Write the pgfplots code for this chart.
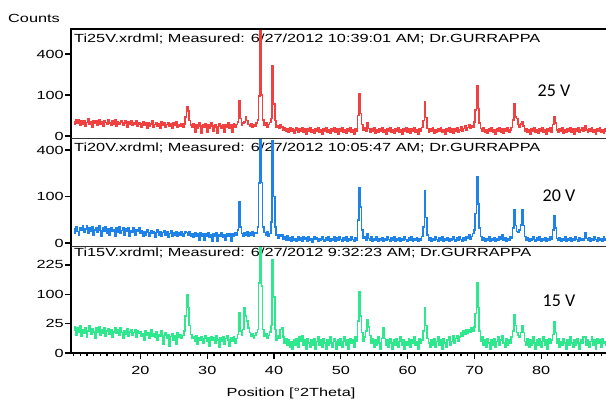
\documentclass[border=0pt]{standalone}
\usepackage{pgfplots}
\pgfplotsset{compat=1.18}
\usepackage{pgfplotstable}
\usepackage{fontspec}
\setmainfont{Liberation Sans}
\newfontfamily\wfont[FakeStretch=1.38]{Liberation Sans}
\newfontfamily\cfont{Carlito}
\newcommand\tf{\wfont\fontsize{11.8}{13}\selectfont}
\newcommand\vf{\cfont\fontsize{18}{20}\selectfont}
\definecolor{cr}{RGB}{240,64,64}
\definecolor{cb}{RGB}{30,130,230}
\definecolor{cg}{RGB}{45,232,140}

\pgfplotstableread{
x r b g
10.0 12 9 15
10.2 8 4 20
10.4 15 12 9
10.6 10 6 18
10.8 16 3 12
11.0 7 11 22
11.2 13 7 8
11.4 9 14 16
11.6 14 5 11
11.8 6 9 19
12.0 11 13 7
12.2 17 4 14
12.4 8 10 21
12.6 12 6 10
12.8 5 12 17
13.0 14 3 13
13.2 10 8 6
13.4 13 11 18
13.6 7 5 12
13.8 15 13 20
14.0 9 7 9
14.2 12 2 15
14.4 6 10 11
14.6 14 6 19
14.8 11 12 8
15.0 8 4 14
15.2 16 9 17
15.4 10 3 10
15.6 7 11 16
15.8 13 6 7
16.0 9 8 13
16.2 15 2 19
16.4 6 10 11
16.6 12 5 15
16.8 8 12 9
17.0 11 4 18
17.2 14 7 12
17.4 7 10 6
17.6 10 3 14
17.8 13 9 10
18.0 5 6 17
18.2 12 11 8
18.4 9 2 13
18.6 14 7 16
18.8 7 5 9
19.0 11 10 12
19.2 8 3 15
19.4 13 8 7
19.6 6 6 14
19.8 10 11 11
20.0 9 4 13
20.2 5 7 8
20.4 12 2 11
20.6 7 6 5
20.8 10 3 14
21.0 4 8 9
21.2 11 5 12
21.4 6 2 6
21.6 9 7 15
21.8 13 4 8
22.0 5 6 11
22.2 8 1.5 7
22.4 11 5 13
22.6 6 8 5
22.8 9 3 10
23.0 4 6 8
23.2 12 2 14
23.4 7 5 2
23.6 10 7 9
23.8 5 3 12
24.0 8 6 6
24.2 11 1.5 10
24.4 6 4 1.5
24.6 9 7 8
24.8 4 2 11
25.0 10 5 5
25.2 7 3 9
25.4 12 6 2
25.6 5 2 12
25.8 8 5 7
26.0 6 3 10
26.2 9 6 6
26.4 5 2 9
26.6 9 4 14
26.8 22 6 40
27.0 51 5 98
27.2 38 3 60
27.4 14 6 22
27.6 7 2 10
27.8 5 4 6
28.0 9 1.5 8
28.2 1 5 4
28.4 7 2 9
28.6 4 4 2
28.8 10 0.3 7
29.0 6 5 5
29.2 0.6 2 8
29.4 8 3.5 3
29.6 5 0.3 6
29.8 9 4 9
30.0 1 2 4
30.2 7 5 7
30.4 4 1.5 1.5
30.6 10 3 8
30.8 6 0.2 5
31.0 1.2 4 7
31.2 8 2 3
31.4 5 5 9
31.6 0.5 0.2 5
31.8 9 3 1
32.0 6 2 7
32.2 4 4.5 4
32.4 8 1.5 8
32.6 0.9 3 2
32.8 7 0.3 6
33.0 5 4 9
33.2 10 2 5
33.4 4 3.5 1.5
33.6 7 0.2 7
33.8 1 4 4
34.0 9 2 8
34.2 5 5 3
34.4 8 3 6
34.6 12 8 10
34.8 73 78 47
35.0 18 12 14
35.2 7 4 9
35.4 10 2 16
35.6 12 5 59
35.8 22 3 40
36.0 14 6 30
36.2 8 2 18
36.4 6 5 12
36.6 9 3 8
36.8 5 6 11
37.0 8 2 6
37.2 6 5 9
37.4 10 4 12
37.6 15 12 16
37.8 95 166 142
38.0 1200 1200 1200
38.2 100 170 130
38.4 15 12 16
38.6 7 5 8
38.8 10 3 11
39.0 5 6 6
39.2 8 2 9
39.4 11 4 13
39.6 18 20 22
39.8 294 480 250
40.0 60 100 90
40.2 14 12 16
40.4 4.2 3 5
40.6 6 1 8.5
40.8 3.2 3 6
41.0 8 2 16
41.2 5 3 18
41.4 2.2 0.6 7.5
41.6 4.2 2 2.8
41.8 1.4 0.3 6
42.0 3.2 2.4 1.8
42.2 0.7 0.3 5
42.4 4.2 1.4 1
42.6 1.4 0.1 3.8
42.8 3.2 2 0.4
43.0 0.4 0.3 5
43.2 2.2 1 1.8
43.4 4.2 0.1 6
43.6 0.7 2 1
43.8 3.2 0.3 7.5
44.0 1.4 1.4 3.8
44.2 4.2 0.2 8.5
44.4 0.7 2 1.8
44.6 2.8 0.6 5
44.8 0.2 1.4 0.4
45.0 3.2 0.1 6
45.2 1.4 2 2.8
45.4 4.2 0.3 1
45.6 0.7 1 5
45.8 2.2 0.05 1.8
46.0 0.4 2 6
46.2 3.2 0.6 0.4
46.4 1.4 1.4 3.8
46.6 4.2 0.1 7.5
46.8 0.7 1 1.8
47.0 2.2 0.3 5
47.2 0.2 2 1
47.4 3.2 0.6 6
47.6 1.4 0.1 2.8
47.8 4.2 1.4 0.4
48.0 0.7 0.3 5
48.2 2.2 2 1.8
48.4 0.4 0.2 7.5
48.6 3.2 1 2.8
48.8 1.4 0.3 1
49.0 4.2 2 6
49.2 0.7 0.1 3.8
49.4 2.8 1.4 0.4
49.6 0.2 0.3 5
49.8 3.2 2 1.8
50.0 1.4 0.6 6
50.2 4.2 0.1 1
50.4 0.7 1.4 3.8
50.6 2.2 0.3 7.5
50.8 0.4 2 1.8
51.0 3.2 0.2 5
51.2 1.4 1 0.4
51.4 4.2 0.3 6
51.6 0.7 2 2.8
51.8 2.2 0.6 5
52.0 0.2 0.1 1
52.2 3.2 1.4 7.5
52.4 1.4 0.3 3.8
52.6 25 25 30
52.8 105 139 109
53.0 30 60 40
53.2 8 8 12
53.4 2.2 1 3.8
53.6 4.2 2 7.5
53.8 1.4 0.3 14
54.0 10 4 32
54.2 3.2 1 20
54.4 0.7 0.3 9
54.6 3.2 2 2.8
54.8 1.4 0.1 6
55.0 4.2 1 1
55.2 0.4 0.3 5
55.4 2.2 2 1.8
55.6 0.7 0.2 7.5
55.8 3.2 1 2.8
56.0 1.4 0.3 0.4
56.2 4.2 1.4 6
56.4 0.7 0.1 19
56.6 2.2 1 6
56.8 0.2 0.3 1.8
57.0 3.2 2 5
57.2 1.4 0.6 1
57.4 4.2 0.1 6
57.6 0.7 1.4 2.8
57.8 2.2 0.3 0.4
58.0 0.4 2 5
58.2 3.2 0.2 1.8
58.4 1.4 1 6
58.6 4.2 0.3 1
58.8 0.7 1.4 3.8
59.0 2.2 0.1 7.5
59.2 0.2 1 1.8
59.4 3.2 0.3 5
59.6 1.4 2 0.4
59.8 4.2 0.6 3.8
60.0 0.7 0.1 1.8
60.2 2.8 1.4 6
60.4 0.4 0.3 1
60.6 3.2 2 5
60.8 1.4 0.2 2.8
61.0 4.2 1 7.5
61.2 0.7 0.3 1.8
61.4 2.2 1.4 3.8
61.6 0.2 0.1 0.4
61.8 3.2 1 6
62.0 1.4 0.3 2.8
62.2 4.2 2 5
62.4 14 12 14
62.6 70 125 58
62.8 20 30 22
63.0 3.2 3 6
63.2 0.7 0.3 2.8
63.4 3.2 1.4 1
63.6 1.4 0.1 5
63.8 4.2 1 1.8
64.0 0.4 0.3 6
64.2 2.2 2 1
64.4 0.7 0.6 3.8
64.6 3.2 0.1 7.5
64.8 1.4 1.4 1.8
65.0 4.2 0.3 5
65.2 0.7 2 0.4
65.4 2.2 0.2 6
65.6 0.2 1 2.8
65.8 3.2 0.3 1
66.0 1.4 1.4 5
66.2 4.2 0.1 7.5
66.4 0.7 1 1.8
66.6 2.8 0.3 3.8
66.8 0.4 2 8.5
67.0 3.2 0.6 2.8
67.2 1.4 0.1 6
67.4 4.2 1.4 9
67.6 0.7 0.3 4
67.8 2.2 2 7.5
68.0 5 0.6 12
68.2 1.4 0.2 8
68.4 3.2 1.4 14
68.6 6 0.3 10
68.8 2.2 2 15
69.0 4.2 1 11
69.2 7 3 16
69.4 3.2 0.6 12
69.6 6 2 18
69.8 4.2 4 14
70.0 12 8 20
70.2 40 40 45
70.4 149 200 141
70.6 45 70 60
70.8 10 10 14
71.0 3.2 2 3.8
71.2 1.4 0.3 7.5
71.4 4.2 1.4 1.8
71.6 0.7 0.1 5
71.8 2.2 1 1
72.0 0.4 0.3 6
72.2 3.2 2 2.8
72.4 1.4 0.2 0.4
72.6 4.2 1 5
72.8 0.7 0.3 1.8
73.0 2.2 1.4 6
73.2 0.2 0.1 1
73.4 3.2 1 3.8
73.6 1.4 0.3 7.5
73.8 4.2 2 1.8
74.0 0.7 0.6 5
74.2 2.8 3 8.5
74.4 0.4 0.3 2.8
74.6 3.2 1.4 1
74.8 1.4 0.1 6
75.0 4.2 1 1.8
75.2 0.7 0.3 5
75.4 2.2 2 2.8
75.6 4.2 1 7.5
75.8 15 10 14
76.0 60 50 42
76.2 22 14 22
76.4 18 6 12
76.6 8 5 9
76.8 5 8 7
77.0 9 15 12
77.2 12 50 21
77.4 6 14 12
77.6 1.4 2 3.8
77.8 3.2 0.3 1.8
78.0 0.7 1.4 6
78.2 2.2 0.1 1
78.4 0.2 1 5
78.6 3.2 0.3 1.8
78.8 1.4 2 7.5
79.0 4.2 0.6 2.8
79.2 0.7 0.1 0.4
79.4 2.2 1.4 5
79.6 0.4 0.3 1.8
79.8 3.2 2 6
80.0 1.4 0.2 1
80.2 4.2 1 3.8
80.4 0.7 0.3 7.5
80.6 2.2 1.4 1.8
80.8 0.2 0.1 5
81.0 3.2 1 0.4
81.2 1.4 0.3 6
81.4 4.2 2 2.8
81.6 0.7 0.6 5
81.8 8 8 10
82.0 22 34 28
82.2 10 10 12
82.4 2.2 1 2.8
82.6 0.7 0.3 6
82.8 3.2 1.4 1
83.0 1.4 0.1 3.8
83.2 4.2 1 1.8
83.4 0.4 0.3 6
83.6 2.2 2 2.8
83.8 0.7 0.2 0.4
84.0 3.2 1 5
84.2 1.4 0.3 1.8
84.4 4.2 1.4 7.5
84.6 0.7 0.1 2.8
84.8 2.8 1 1
85.0 0.2 0.3 5
85.2 3.2 2 1.8
85.4 1.4 0.6 6
85.6 4.2 0.1 2.8
85.8 0.7 1.4 0.4
86.0 2.2 0.3 5
86.2 4.2 1 2.8
86.4 1.4 0.3 7.5
86.6 6 5 8
86.8 2.2 1 1.8
87.0 0.7 0.3 5
87.2 3.2 1.4 1
87.4 1.4 0.1 3.8
87.6 4.2 1 7.5
87.8 0.7 0.3 1.8
88.0 2.2 2 5
88.2 0.2 0.6 0.4
88.4 3.2 0.1 6
88.6 1.4 1.4 2.8
88.8 4.2 0.3 5
89.0 0.7 1 1
89.2 2.2 0.2 6
89.4 0.4 2 2.8
89.6 3.2 0.3 3.8
89.8 1.4 1 1.8
}\xrd

\pgfplotsset{xrd/.style={
  scale only axis, width=535pt, xmin=9.6, xmax=89.7, ymin=0,
  anchor=south west,
  y coord trafo/.code={\pgfmathparse{sqrt(##1)}},
  y coord inv trafo/.code={\pgfmathparse{(##1)^2}},
  axis line style={draw=none},
  tick align=outside, tick pos=left,
  major tick length=6pt, minor tick length=3pt,
  tick style={black, line width=1.2pt},
  yticklabel style={font=\tf, inner sep=1pt},
  xticklabel style={font=\tf},
  enlargelimits=false,
}}

\begin{document}
\begin{tikzpicture}[x=1pt,y=1pt]
\useasboundingbox (0,0) rectangle (606,401);
\node[font=\tf, inner sep=0] at (34,383) {Counts};
\node[font=\tf, inner sep=0, anchor=base west] at (74,358) {Ti25V.xrdml; Measured: 6/27/2012 10:39:01 AM; Dr.GURRAPPA};
\node[font=\tf, inner sep=0, anchor=base west] at (74,249.5) {Ti20V.xrdml; Measured: 6/27/2012 10:05:47 AM; Dr.GURRAPPA};
\node[font=\tf, inner sep=0, anchor=base west] at (74,144.5) {Ti15V.xrdml; Measured: 6/27/2012 9:32:23 AM; Dr.GURRAPPA};
\node[font=\vf, inner sep=0] at (554,310) {25 V};
\node[font=\vf, inner sep=0] at (559,205) {20 V};
\node[font=\vf, inner sep=0] at (559,100) {15 V};
\node[font=\tf, inner sep=0, anchor=base] at (291,4) {Position [°2Theta]};

\begin{axis}[xrd, at={(71pt,265pt)}, height=107pt, ymax=682,
  ytick={0,100,400}, yticklabels={0,100,400}, xtick=\empty]
\addplot[cr, line width=1.6pt, const plot mark mid] table[x=x,y=r]{\xrd};
\end{axis}

\begin{axis}[xrd, at={(71pt,158pt)}, height=104pt, ymax=500,
  ytick={0,100,400}, yticklabels={0,100,400}, xtick=\empty]
\addplot[cb, line width=1.6pt, const plot mark mid] table[x=x,y=b]{\xrd};
\end{axis}

\begin{axis}[xrd, at={(71pt,48pt)}, height=106pt, ymax=326,
  ytick={0,25,100,225}, yticklabels={0,25,100,225},
  xtick={20,30,40,50,60,70,80}, xticklabels={20,30,40,50,60,70,80},
  minor xtick={10,11,...,89},
  xticklabel style={yshift=-4pt}]
\addplot[cg, line width=1.6pt, const plot mark mid] table[x=x,y=g]{\xrd};
\end{axis}

\draw[line width=2.6pt] (71,46.7) -- (71,373.3);
\draw[line width=2.6pt] (69.7,372) -- (606,372);
\draw[line width=1.1pt, black!80] (71,262.5) -- (606,262.5);
\draw[line width=1.1pt, black!80] (71,154.5) -- (606,154.5);
\draw[line width=2.6pt] (69.7,48) -- (606,48);
\end{tikzpicture}
\end{document}
